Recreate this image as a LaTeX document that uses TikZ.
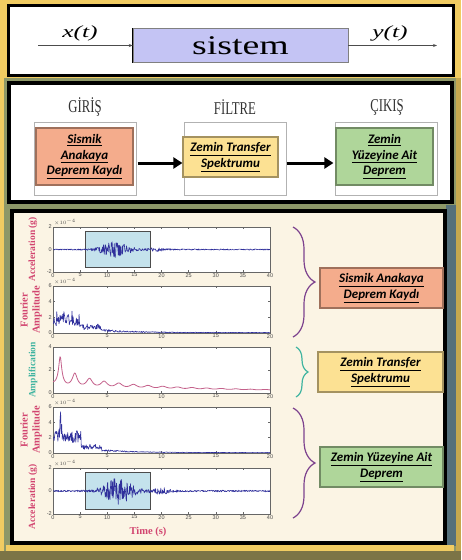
\documentclass[tikz,border=0pt]{standalone}
\usepackage{graphicx}
\usepackage{fontspec}
\setmainfont{Liberation Serif}
\newfontfamily\calibri{Carlito}
\newfontfamily\arial{Liberation Sans}
\usepackage{tikz}
\usetikzlibrary{arrows,arrows.meta,shapes,positioning}
\usetikzlibrary{decorations.pathreplacing}

\definecolor{gold}{HTML}{F1CC62}
\definecolor{dullgold}{HTML}{C6A84E}
\definecolor{olive}{HTML}{7C7446}
\definecolor{photo}{HTML}{8E9868}
\definecolor{photoblue}{HTML}{56707A}
\definecolor{lavender}{HTML}{C4C4F4}
\definecolor{salmon}{HTML}{F4AC8C}
\definecolor{butter}{HTML}{FCE193}
\definecolor{mint}{HTML}{AFD69A}
\definecolor{cream}{HTML}{FBF4E4}
\definecolor{sigblue}{HTML}{30309C}
\definecolor{rose}{HTML}{D24570}
\definecolor{mauve}{HTML}{C4608A}
\definecolor{teal}{HTML}{3FB4A0}
\definecolor{plum}{HTML}{7D428E}
\definecolor{window}{HTML}{C4E2EC}

\tikzset{
  panel/.style = {draw = black, line width = 3pt, fill = white},
  slot/.style = {draw = gray!60, fill = white, minimum width = 102pt, minimum height = 73pt, inner sep = 0pt},
  colorbox/.style = {draw = #1!65!black, fill = #1, line width = 1.2pt, inner sep = 1pt, align = center,
    font = \calibri\bfseries\itshape\fontsize{13}{15.5}\selectfont},
  heading/.style = {font = \fontsize{15}{15}\selectfont, text = black!80},
  ylab/.style = {font = \bfseries\fontsize{9.5}{11.5}\selectfont, text = rose, align = center, rotate = 90},
  ticklab/.style = {font = \arial\fontsize{5.5}{5.5}\selectfont, text = black!70, inner sep = 1pt},
  axisbox/.style = {draw = black!60, fill = white, line width = 0.5pt},
  wave/.style = {sigblue, line width = 0.6pt, line join = round},
  bigarrow/.style = {line width = 3pt, -{Triangle[length = 9pt, width = 11pt]}},
  thinarrow/.style = {black!70, line width = 0.7pt, -{Stealth[length = 4pt]}},
  curly/.style = {decorate, decoration = {brace, amplitude = #1}, line width = 1.2pt}
}

\begin{document}
\begin{tikzpicture}[x = 1pt, y = -1pt]
    \pgfmathsetseed{11}
    \useasboundingbox (0,0) rectangle (461,560);
    \fill[gold] (0,0) rectangle (461,560);
    \fill[photo] (4,78) rectangle (456,551);
    \fill[photoblue] (446,205) rectangle (456,546);
    \fill[dullgold] (456,78) rectangle (461,560);
    \fill[gold] (6,545) rectangle (454,551);
    \fill[olive] (0,551) rectangle (461,560);

    \draw[panel] (8,5) rectangle (453,75);
    \node[draw = gray, fill = lavender, minimum width = 215pt, minimum height = 34pt] (sys) at (240.5,45.5)
      {\scalebox{1.4}[1]{\fontsize{27}{27}\selectfont sistem}};
    \draw[line width = 1.3pt] (sys.north west) -- (sys.south west);
    \coordinate (xstart) at (38,45.5);
    \coordinate (yend) at (437,45.5);
    \draw[thinarrow] (xstart) -- (sys.west);
    \draw[thinarrow] (sys.east) -- (yend);
    \node (xlab) at (80,33) {\scalebox{1.5}[1]{\fontsize{17}{17}\selectfont\itshape x(t)}};
    \node (ylab) at (390,33) {\scalebox{1.5}[1]{\fontsize{17}{17}\selectfont\itshape y(t)}};

    \draw[panel, line width = 3.5pt] (9,83) rectangle (452,202);
    \node[heading] (giris) at (85,107) {\scalebox{0.85}[1.2]{GİRİŞ}};
    \node[heading] (filtre) at (235,107) {\scalebox{0.85}[1.2]{FİLTRE}};
    \node[heading] (cikis) at (387,107) {\scalebox{0.85}[1.2]{ÇIKIŞ}};
    \node[slot] (slotin) at (85,158.5) {};
    \node[slot] (slotfil) at (235.5,158.5) {};
    \node[slot] (slotout) at (386,158.5) {};
    \node[colorbox = salmon, minimum width = 97pt, minimum height = 57pt] (anakaya) at (84.5,156.5)
      {\underline{Sismik}\\\underline{Anakaya}\\\underline{Deprem Kaydı}};
    \node[colorbox = butter, minimum width = 95pt, minimum height = 40pt] (transfer) at (230.5,157)
      {\underline{Zemin Transfer}\\\underline{Spektrumu}};
    \node[colorbox = mint, minimum width = 97pt, minimum height = 57pt] (yuzey) at (384.5,156.5)
      {\underline{Zemin}\\\underline{Yüzeyine Ait}\\\underline{Deprem}};
    \draw[bigarrow, shorten <= 4pt] ([yshift = -6.5pt]anakaya.east) -- ([yshift = -6pt]transfer.west);
    \draw[bigarrow, shorten <= 8pt, shorten >= 2pt] ([yshift = -6pt]transfer.east) -- ([yshift = -6.5pt]yuzey.west);

    \draw[draw = black, line width = 4pt, fill = cream] (12,211) rectangle (445,543);

    \foreach \ya/\yb/\xm/\lo/\hi in {227/272/40/-2/2, 286/333/20/0/6, 347/393/20/0/4, 407/453/20/0/6, 468/514/40/-2/2} {
      \draw[axisbox] (53,\ya) rectangle (270,\yb);
      \pgfmathtruncatemacro\nx{\xm/5}
      \foreach \k in {0,...,\nx} {
        \pgfmathsetmacro\px{53 + \k*1085/\xm}
        \pgfmathtruncatemacro\lab{5*\k}
        \draw[black!60] (\px,\yb) -- ++(0,-2) (\px,\ya) -- ++(0,2);
        \node[ticklab, below] at (\px,\yb) {\lab};
      }
      \pgfmathtruncatemacro\ny{(\hi-\lo)/2}
      \foreach \j in {0,...,\ny} {
        \pgfmathsetmacro\py{\yb - \j*2*(\yb-\ya)/(\hi-\lo)}
        \pgfmathtruncatemacro\lab{\lo + 2*\j}
        \draw[black!60] (53,\py) -- ++(2,0) (270,\py) -- ++(-2,0);
        \node[ticklab, left] at (53,\py) {\lab};
      }
    }
    \foreach \ya in {227, 286, 407, 468} {
      \node[ticklab, above right] at (53,\ya) {$\times10^{-4}$};
    }

    \begin{scope}[shift = {(53,249.5)}, x = 5.425pt, y = 11.25pt]
      \clip (0,-2) rectangle (40,2);
      \draw[draw = black!70, fill = window] (6,-1.6) rectangle (18,1.6);
      \draw[wave] plot[domain = 0:40, samples = 500, variable = \x]
        (\x, {(0.05 + 0.7*exp(-((\x-11.5)/2.8)^2) + 0.12*exp(-((\x-19)/2)^2))*rand});
    \end{scope}
    \begin{scope}[shift = {(53,333)}, x = 10.85pt, y = 7.83pt]
      \clip (0,0) rectangle (20,6);
      \draw[wave] plot[domain = 0:20, samples = 400, variable = \x]
        (\x, {(\x < 2.45 ? 1.8 : (\x < 4.4 ? 0.75 : 0.05 + 0.3*exp(-(\x-4.4)/3)))*(1 + 0.55*rand)});
    \end{scope}
    \begin{scope}[shift = {(53,393)}, x = 10.85pt, y = 11.5pt]
      \clip (0,0) rectangle (20,4);
      \draw[mauve, line width = 0.8pt] plot[domain = 0:20, samples = 801, variable = \x]
        (\x, {exp(-\x/30)/sqrt(cos(\x*133.33)^2 + 0.1443*\x)});
    \end{scope}
    \begin{scope}[shift = {(53,453)}, x = 10.85pt, y = 7.83pt]
      \clip (0,0) rectangle (20,6);
      \draw[wave] plot[domain = 0:20, samples = 400, variable = \x]
        (\x, {(\x < 2.6 ? 2.1 + 2.2*exp(-(min(abs(\x-0.7),1)/0.12)^2) : (\x < 4.5 ? 0.8 : 0.05 + 0.3*exp(-(\x-4.5)/3)))*(1 + 0.4*rand)});
    \end{scope}
    \begin{scope}[shift = {(53,491)}, x = 5.425pt, y = 11.5pt]
      \clip (0,-2) rectangle (40,2);
      \draw[draw = black!70, fill = window] (6,-1.6) rectangle (18,1.6);
      \draw[wave] plot[domain = 0:40, samples = 500, variable = \x]
        (\x, {(0.07 + 1.1*exp(-((\x-12)/3)^2) + 0.25*exp(-((\x-20)/2)^2))*rand});
    \end{scope}

    \node[ylab] (acctop) at (33,249.5) {Acceleration (g)};
    \node[ylab, font = \bfseries\fontsize{10.5}{12}\selectfont] (fourin) at (31,310) {Fourier\\Amplitude};
    \node[ylab, text = teal] (ampl) at (33,370) {Amplification};
    \node[ylab, font = \bfseries\fontsize{10.5}{12}\selectfont] (fourout) at (31,430) {Fourier\\Amplitude};
    \node[ylab] (accbot) at (33,497) {Acceleration (g)};
    \node[font = \bfseries\fontsize{10.5}{10.5}\selectfont, text = rose] (time) at (148,532) {Time (s)};

    \coordinate (b1top) at (293,227);
    \coordinate (b1bot) at (293,337);
    \coordinate (b2top) at (296,347);
    \coordinate (b2bot) at (296,397);
    \coordinate (b3top) at (293,408);
    \coordinate (b3bot) at (293,518);
    \draw[curly = 22pt, plum] (b1top) -- (b1bot);
    \draw[curly = 12pt, teal] (b2top) -- (b2bot);
    \draw[curly = 22pt, plum] (b3top) -- (b3bot);

    \node[colorbox = salmon, minimum width = 123pt, minimum height = 40pt] (anakayar) at (381.5,288)
      {\underline{Sismik Anakaya}\\\underline{Deprem Kaydı}};
    \node[colorbox = butter, minimum width = 125pt, minimum height = 40pt] (transferr) at (380.5,372)
      {\underline{Zemin Transfer}\\\underline{Spektrumu}};
    \node[colorbox = mint, minimum width = 123pt, minimum height = 40pt] (yuzeyr) at (381.5,467)
      {\underline{Zemin Yüzeyine Ait}\\\underline{Deprem}};
\end{tikzpicture}
\end{document}
